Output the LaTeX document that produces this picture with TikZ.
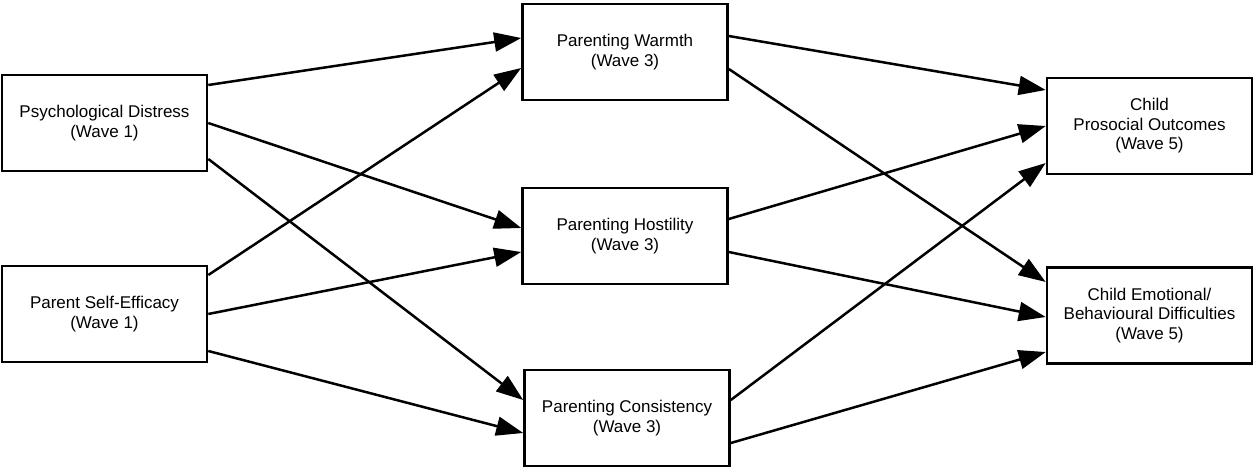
\documentclass[tikz,border=0pt]{standalone}
\usepackage{fontspec}
\setmainfont{Liberation Sans}
\usetikzlibrary{arrows.meta}
\begin{document}
\begin{tikzpicture}[x=1pt,y=-1pt,
  box/.style={draw, line width=2.6pt, rectangle, minimum width=205pt, minimum height=96pt,
    align=center, inner sep=0pt, font=\fontsize{17}{19.5}\selectfont},
  link/.style={line width=2.5pt, -{Triangle[length=27pt,width=19pt]}}]
\useasboundingbox (0,0) rectangle (1253,468);
\node[box] (PD) at (104.5,123) {Psychological Distress\\(Wave 1)};
\node[box] (PSE) at (104.5,314) {Parent Self-Efficacy\\(Wave 1)};
\node[box] (W) at (625,52) {Parenting Warmth\\(Wave 3)};
\node[box] (H) at (625,236) {Parenting Hostility\\(Wave 3)};
\node[box] (C) at (627,418) {Parenting Consistency\\(Wave 3)};
\node[box] (Pro) at (1149.5,126) {Child\\Prosocial Outcomes\\(Wave 5)};
\node[box] (Emo) at (1149.5,315.5) {Child Emotional/\\Behavioural Difficulties\\(Wave 5)};
\draw[link] ([yshift=38pt]PD.east) -- ([yshift=14pt]W.west);
\draw[link] (PD.east) -- ([yshift=8pt]H.west);
\draw[link] ([yshift=-36pt]PD.east) -- ([yshift=18pt]C.west);
\draw[link] ([yshift=39pt]PSE.east) -- ([yshift=-16pt]W.west);
\draw[link] (PSE.east) -- ([yshift=-16pt]H.west);
\draw[link] ([yshift=-37pt]PSE.east) -- ([yshift=-15pt]C.west);
\draw[link] ([yshift=16pt]W.east) -- ([yshift=36pt]Pro.west);
\draw[link] ([yshift=-17pt]W.east) -- ([yshift=33.5pt]Emo.west);
\draw[link] ([yshift=17pt]H.east) -- (Pro.west);
\draw[link] ([yshift=-16pt]H.east) -- ([yshift=-1.5pt]Emo.west);
\draw[link] ([yshift=18pt]C.east) -- ([yshift=-37pt]Pro.west);
\draw[link] ([yshift=-25pt]C.east) -- ([yshift=-36.5pt]Emo.west);
\end{tikzpicture}
\end{document}
